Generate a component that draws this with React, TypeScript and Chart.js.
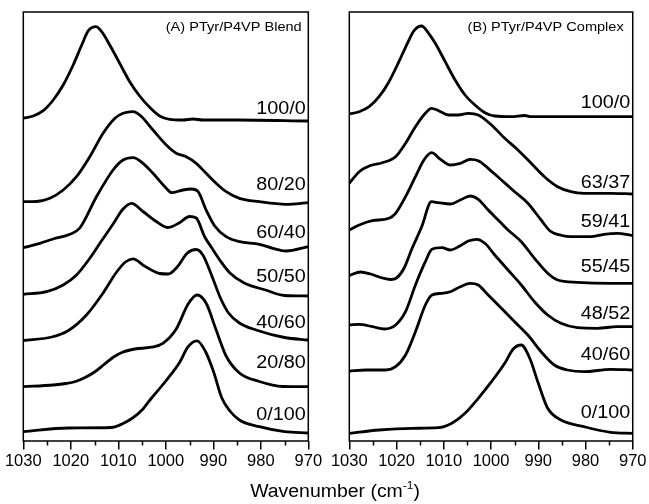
import React, { useEffect, useRef } from 'react';
import { Chart, registerables } from 'chart.js';

Chart.register(...registerables);

type Pt = [number, number];

const FONT = '"Liberation Sans", Arial, Helvetica, sans-serif';

// Shared axis
const xMin = 970;
const xMax = 1030;
const xStep = 10;
const minorTicks = [1025, 1015, 1005, 995, 985, 975];
const yMin = 0;
const yMax = 429;

// (A) PTyr/P4VP Blend — wavenumber (cm-1), offset absorbance (a.u.)
const blend_100_0: Pt[] = [[1030, 322.7], [1027.9, 325], [1025.8, 330.3], [1023.7, 341], [1021.6, 356], [1019.5, 376], [1017.7, 396], [1016.3, 410.3], [1014.7, 414.3], [1013.5, 409.3], [1011.8, 396], [1009.7, 377.7], [1007.6, 359.3], [1005.5, 345], [1003.4, 333.7], [1001.3, 325], [999.2, 321.7], [996.4, 321], [994.3, 322], [992.2, 321], [985, 321], [970, 320]];
const blend_80_20: Pt[] = [[1030, 239.3], [1027.2, 239.5], [1024.4, 242.7], [1021.6, 251], [1018.8, 264.3], [1016, 284.3], [1013.2, 307.7], [1010.7, 322.7], [1009, 327.7], [1006.9, 329.3], [1005.1, 324.3], [1002.7, 311], [999.9, 296], [997.8, 287.7], [995.7, 284.3], [993.6, 277.7], [991.5, 267.7], [989.4, 257.7], [987.3, 249.3], [984.5, 242.7], [980.3, 239.3], [974.7, 236.7], [970, 238.3]];
const blend_60_40: Pt[] = [[1030, 193.3], [1026.5, 197.7], [1023.7, 202], [1020.2, 206.7], [1018.1, 213], [1014.6, 244.3], [1011.1, 271], [1009, 281], [1006.9, 283.3], [1004.8, 277.7], [1002.7, 267.7], [999.9, 252.7], [998.8, 248.3], [996.4, 251], [994.6, 252], [993.2, 249.3], [991.5, 231], [989.7, 215], [987.3, 204.3], [984.5, 199.3], [980.3, 196.7], [977.5, 192.7], [974.7, 190], [970, 194.3]];
const blend_50_50: Pt[] = [[1030, 146.7], [1025.1, 149.3], [1021.6, 156], [1018.8, 166], [1016, 182.7], [1013.7, 199], [1011.1, 217], [1009, 232], [1007.2, 237.7], [1004.8, 229.5], [1002, 219.5], [999.5, 213.5], [997.1, 218.3], [995, 224.5], [993.6, 223], [991.8, 204], [990.3, 193], [988.5, 180], [986.5, 168], [983.5, 158], [979, 151], [975, 145.5], [970, 145]];
const blend_40_60: Pt[] = [[1030, 100.5], [1024, 104], [1020.5, 110.5], [1016.7, 126], [1013.2, 148], [1010.5, 168], [1008.5, 179], [1006.9, 182.2], [1004.5, 175], [1001.3, 167.5], [999.5, 167], [997.6, 174], [995.5, 187.7], [993.6, 191.5], [992.2, 186], [990.3, 165], [988.5, 143], [986.8, 128], [984.5, 118], [981, 111], [975, 103.5], [970, 101]];
const blend_20_80: Pt[] = [[1030, 54.3], [1023.7, 56], [1021, 57.5], [1019, 59.5], [1017, 63.5], [1015, 69], [1013, 76.5], [1011, 84], [1009, 89], [1006.5, 92], [1003, 93.8], [1000.6, 97.7], [997.8, 112], [995.3, 137], [993.4, 146], [991.5, 137.7], [989.4, 111], [987.3, 85], [984.5, 68], [980.3, 59.5], [975.4, 54.5], [970, 54.3]];
const blend_0_100: Pt[] = [[1030, 9.3], [1020.5, 13], [1011.5, 13.5], [1009, 17.5], [1007, 23], [1005, 31], [1003, 43], [1000, 60], [997.1, 78.5], [995.3, 94.3], [993.4, 100.2], [991.7, 90], [990, 70], [988.2, 43], [986.5, 30], [984.5, 21], [980.3, 14.3], [975, 9.3], [970, 8]];

const blendNames = ['100/0', '80/20', '60/40', '50/50', '40/60', '20/80', '0/100'];
const blendLabelY = [327, 251, 203.5, 158.7, 112.7, 72.7, 21];
const blendTitle = '(A) PTyr/P4VP Blend';

// (B) PTyr/P4VP Complex
const complex_100_0: Pt[] = [[1030, 327], [1027.9, 329.3], [1025.8, 334.3], [1023.7, 344.3], [1021.6, 359.3], [1019.5, 379.3], [1017.7, 397.7], [1016.3, 410.3], [1014.7, 415], [1013.2, 407.7], [1011.8, 397.7], [1009.7, 379.3], [1007.6, 361], [1005.5, 346], [1003.4, 336], [1001.3, 328.3], [999.2, 325], [995.7, 324.3], [992.9, 325.5], [991.5, 324.3], [981.7, 324.3], [970, 324.3]];
const complex_63_37: Pt[] = [[1030, 257.7], [1027.9, 269.3], [1025.8, 275], [1023, 278.3], [1020.2, 284.3], [1018.1, 297.7], [1016, 314.3], [1013.9, 327.7], [1012.6, 332.7], [1011.1, 330.3], [1009, 326], [1006.9, 326], [1004.8, 327.7], [1002.7, 326], [999.9, 316], [997.1, 302.7], [994.3, 291], [991.5, 277.7], [988.7, 264.3], [985.9, 254.3], [983.1, 249.3], [980.3, 247.7], [974.7, 247.7], [970, 247]];
const complex_59_41: Pt[] = [[1030, 211], [1027.9, 216], [1025.1, 220.3], [1021.6, 222.7], [1020.2, 227.7], [1018.1, 244.3], [1016, 264.3], [1014.2, 281], [1012.6, 288.3], [1010.7, 281.7], [1008.6, 276], [1006.5, 277.7], [1004.4, 281.7], [1002.7, 280.3], [1000.6, 272.7], [997.8, 261], [995, 249.3], [992.2, 237.7], [989.4, 221], [987.5, 210], [985, 205.5], [983.1, 204.3], [978.9, 204.3], [976.1, 206.7], [973.3, 207.7], [970, 205.3]];
const complex_55_45: Pt[] = [[1030, 165.5], [1027.6, 169], [1025.5, 167], [1023, 163], [1021.3, 161.5], [1020, 163], [1018.5, 172], [1016.7, 192.7], [1014.7, 214], [1012.6, 239.3], [1011.1, 238.3], [1008.6, 237], [1006.5, 241], [1004.4, 245], [1002.7, 241.7], [1000.6, 231], [997.8, 217.7], [996.4, 211], [993.6, 199.3], [990.8, 182.7], [988, 167.7], [985.9, 161], [981.7, 158.7], [974.7, 157.7], [970, 157.7]];
const complex_48_52: Pt[] = [[1030, 116], [1027.9, 116.7], [1025.1, 114.3], [1022.6, 112], [1020.2, 116], [1018.1, 129.3], [1016, 156], [1013.9, 179.3], [1012.5, 191.7], [1010.4, 193.3], [1008.6, 191], [1006.5, 195.3], [1004.8, 200], [1003, 201.7], [1001.3, 197.7], [999.2, 186], [996.4, 171], [993.6, 156], [990.8, 139.3], [988, 126], [985.2, 117.7], [981.7, 113.3], [977.5, 112.7], [973.3, 114.3], [970, 114.3]];
const complex_40_60: Pt[] = [[1030, 70], [1026.5, 71], [1022.3, 71], [1020.2, 74.3], [1018.1, 86], [1016, 109.3], [1013.9, 136], [1012.5, 146], [1010.4, 147.7], [1008.6, 149.3], [1006.5, 154.3], [1004.4, 157.7], [1002.7, 156], [1000.6, 146], [997.8, 132.7], [995, 119.3], [992.2, 106], [989.4, 89.3], [986.6, 76], [983.8, 71], [980.3, 69.3], [974.7, 71.7], [970, 71]];
const complex_0_100: Pt[] = [[1030, 7.7], [1023.7, 11], [1016.7, 12.7], [1011.1, 13.3], [1008.3, 17.7], [1005.5, 27.7], [1002.7, 42.7], [999.9, 59.3], [997.1, 77.7], [995.3, 92], [993.6, 96], [991.8, 82.7], [990.1, 59.3], [988, 32.7], [985.2, 21], [980.3, 14.3], [974.7, 8.7], [970, 7.7]];

const complexNames = ['100/0', '63/37', '59/41', '55/45', '48/52', '40/60', '0/100'];
const complexLabelY = [332.7, 252.7, 214.3, 169.3, 122, 81, 22.7];
const complexTitle = '(B) PTyr/P4VP Complex';

const axisTitle = 'Wavenumber (cm';
const axisTitleSup = '-1';

interface PanelProps {
  series: Pt[][];
  names: string[];
  labelY: number[];
  title: string;
  left: number;
  width: number;
  padLeft: number;
  padRight: number;
  titleInset: number;
}

function Panel(props: PanelProps) {
  const ref = useRef<HTMLCanvasElement | null>(null);
  useEffect(() => {
    const canvas = ref.current;
    if (!canvas) return;
    const { series, names, labelY, title, padLeft, padRight, titleInset } = props;
    const deco = {
      id: 'panelDeco',
      afterDatasetsDraw(chart: any) {
        const { ctx, chartArea: a, scales } = chart;
        ctx.save();
        ctx.strokeStyle = '#000';
        ctx.lineWidth = 1.5;
        ctx.strokeRect(a.left, a.top, a.right - a.left, a.bottom - a.top);
        for (const v of minorTicks) {
          const px = Math.round(scales.x.getPixelForValue(v)) + 0.5;
          ctx.beginPath();
          ctx.moveTo(px, a.bottom);
          ctx.lineTo(px, a.bottom + 4.5);
          ctx.stroke();
        }
        ctx.fillStyle = '#000';
        ctx.textAlign = 'right';
        ctx.textBaseline = 'alphabetic';
        ctx.font = `18px ${FONT}`;
        names.forEach((n, i) => {
          const y = scales.y.getPixelForValue(labelY[i]);
          ctx.save();
          ctx.translate(a.right - 2.5, y);
          ctx.scale(1.1, 1);
          ctx.fillText(n, 0, 0);
          ctx.restore();
        });
        ctx.font = `13px ${FONT}`;
        ctx.save();
        ctx.translate(a.right - titleInset, a.top + 19);
        ctx.scale(1.12, 1);
        ctx.fillText(title, 0, 0);
        ctx.restore();
        ctx.restore();
      },
    };
    const chart = new Chart(canvas, {
      type: 'line',
      data: {
        datasets: series.map((s, i) => ({
          label: names[i],
          data: s.map(([x, y]) => ({ x, y })),
          borderColor: '#000',
          backgroundColor: '#000',
          borderWidth: 2.8,
          pointRadius: 0,
          cubicInterpolationMode: 'monotone' as const,
          fill: false,
        })),
      },
      options: {
        animation: false,
        responsive: false,
        maintainAspectRatio: false,
        events: [],
        layout: { padding: { left: padLeft, right: padRight, top: 12, bottom: 0 } },
        plugins: { legend: { display: false }, tooltip: { enabled: false }, title: { display: false } },
        scales: {
          x: {
            type: 'linear',
            reverse: true,
            min: xMin,
            max: xMax,
            ticks: {
              stepSize: xStep,
              color: '#000',
              font: { family: FONT, size: 16.5 },
              padding: 2.5,
              maxRotation: 0,
              autoSkip: false,
              callback: (v: any) => String(v),
            },
            grid: { drawOnChartArea: false, drawTicks: true, tickLength: 8.5, color: '#000', lineWidth: 1.5 },
            border: { display: false },
            afterFit: (s: any) => {
              s.height = 63;
            },
          },
          y: { display: false, min: yMin, max: yMax },
        },
      } as any,
      plugins: [deco],
    });
    return () => chart.destroy();
  }, []);
  return (
    <canvas
      ref={ref}
      width={props.width}
      height={504}
      style={{ position: 'absolute', left: props.left, top: 0, width: props.width, height: 504 }}
    />
  );
}

export default function App() {
  return (
    <div style={{ position: 'absolute', left: 0, top: 0, width: 649, height: 504, background: '#fff', overflow: 'hidden' }}>
      <Panel
        series={[blend_100_0, blend_80_20, blend_60_40, blend_50_50, blend_40_60, blend_20_80, blend_0_100]}
        names={blendNames}
        labelY={blendLabelY}
        title={blendTitle}
        left={0}
        width={330}
        padLeft={23.3}
        padRight={21.7}
        titleInset={6.6}
      />
      <Panel
        series={[complex_100_0, complex_63_37, complex_59_41, complex_55_45, complex_48_52, complex_40_60, complex_0_100]}
        names={complexNames}
        labelY={complexLabelY}
        title={complexTitle}
        left={320}
        width={329}
        padLeft={29.3}
        padRight={14.7}
        titleInset={9}
      />
      <div
        style={{
          position: 'absolute',
          left: 135,
          top: 481.5,
          width: 400,
          textAlign: 'center',
          fontFamily: FONT,
          fontSize: 18,
          lineHeight: '18px',
          color: '#000',
          whiteSpace: 'nowrap',
          transform: 'scaleX(1.08)',
          transformOrigin: 'center',
        }}
      >
        {axisTitle}
        <span style={{ fontSize: 11, position: 'relative', top: -8, lineHeight: 0 }}>{axisTitleSup}</span>)
      </div>
    </div>
  );
}
